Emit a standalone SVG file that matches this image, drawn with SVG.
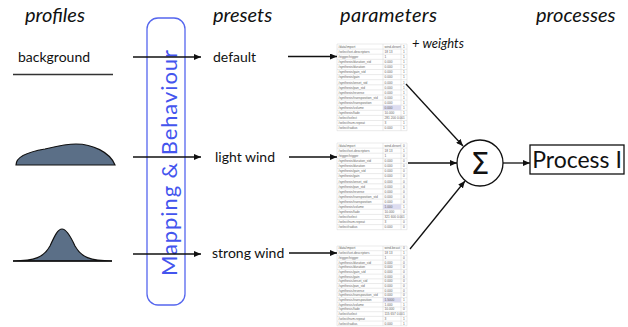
<svg xmlns="http://www.w3.org/2000/svg" xmlns:xlink="http://www.w3.org/1999/xlink" width="628" height="327" viewBox="0 0 628 327">
<style>
.hdr{font-family:Lato,"Open Sans",sans-serif;font-style:italic;font-size:20px;fill:#111}
.lbl{font-family:Lato,"Open Sans",sans-serif;font-size:14px;fill:#111}
.tt{font-family:"Liberation Sans",Arial,sans-serif;font-size:3.2px;fill:#666}
.conn{stroke:#111;stroke-width:1.3;fill:none}
.grid{stroke:#d4d4d4;stroke-width:0.5;fill:none}
.prof{fill:#5b6f87;stroke:#111;stroke-width:1.2}
</style>
<defs>
<marker id="ah" markerWidth="7" markerHeight="6" refX="7" refY="3" orient="auto" markerUnits="userSpaceOnUse">
<path d="M0,0 L7,3 L0,6 z" fill="#111"/>
</marker>
<g id="grid">
<rect x="0" y="0" width="70" height="86.7" fill="#fff"/>
<path class="grid" d="M0,0H70M0,5.1H70M0,10.2H70M0,15.3H70M0,20.4H70M0,25.5H70M0,30.6H70M0,35.7H70M0,40.8H70M0,45.9H70M0,51H70M0,56.1H70M0,61.2H70M0,66.3H70M0,71.4H70M0,76.5H70M0,81.6H70M0,86.7H70M0,0V86.7M46,0V86.7M64,0V86.7M70,0V86.7"/>
</g>
<g id="names" class="tt">
<text x="1.5" y="3.8">/data/import</text>
<text x="1.5" y="8.9">/select/set-descriptors</text>
<text x="1.5" y="14">/trigger/trigger</text>
<text x="1.5" y="19.1">/synthesis/duration_std</text>
<text x="1.5" y="24.2">/synthesis/duration</text>
<text x="1.5" y="29.3">/synthesis/gain_std</text>
<text x="1.5" y="34.4">/synthesis/gain</text>
<text x="1.5" y="39.5">/synthesis/onset_std</text>
<text x="1.5" y="44.6">/synthesis/pan_std</text>
<text x="1.5" y="49.7">/synthesis/reverse</text>
<text x="1.5" y="54.8">/synthesis/transposition_std</text>
<text x="1.5" y="59.9">/synthesis/transposition</text>
<text x="1.5" y="65">/synthesis/volume</text>
<text x="1.5" y="70.1">/synthesis/fade</text>
<text x="1.5" y="75.2">/select/select</text>
<text x="1.5" y="80.3">/select/num-repeat</text>
<text x="1.5" y="85.4">/select/radius</text>
</g>
<g id="vals" class="tt">
<text x="47.5" y="19.1">0.000</text>
<text x="47.5" y="24.2">0.000</text>
<text x="47.5" y="29.3">0.000</text>
<text x="47.5" y="34.4">0.000</text>
<text x="47.5" y="39.5">0.000</text>
<text x="47.5" y="44.6">0.000</text>
<text x="47.5" y="49.7">0.000</text>
<text x="47.5" y="54.8">0.000</text>
<text x="47.5" y="70.1">10.000</text>
<text x="47.5" y="80.3">3</text>
<text x="47.5" y="85.4">0.000</text>
<text x="47.5" y="14">1</text>
<text x="47.5" y="8.9">18 13</text>
</g>
</defs>

<!-- headers -->
<g id="headers">
<text class="hdr" x="25" y="22">profiles</text>
<text class="hdr" x="213" y="22">presets</text>
<text class="hdr" x="340" y="22" textLength="97" lengthAdjust="spacing">parameters</text>
<text class="hdr" x="536" y="22">processes</text>
<text x="412" y="48" style="font-family:Lato,'Open Sans',sans-serif;font-style:italic;font-size:13px;fill:#111">+ weights</text>
</g>

<!-- profiles -->
<g id="profile-background">
<text class="lbl" x="18" y="62">background</text>
<line x1="13" y1="74.5" x2="113" y2="74.5" stroke="#333" stroke-width="1.3"/>
</g>
<g id="profile-light">
<path class="prof" d="M16,165 C16,157 27,152 45,149 C58,146 66,144 76,144 C92,144 110,152 115,165 Z"/>
</g>
<g id="profile-strong">
<path class="prof" d="M13,261 C35,261 44,257 50,246 C55,235 58,229 62,229 C66,229 70,235 75,246 C81,257 90,261 112,261 Z"/>
<line x1="13" y1="261" x2="112" y2="261" stroke="#111" stroke-width="1.6"/>
</g>

<!-- mapping & behaviour -->
<g id="mapping">
<rect x="147" y="18" width="38" height="287" rx="11" fill="none" stroke="#5566ee" stroke-width="1.3"/>
<text transform="translate(177,276) rotate(-90)" textLength="226" lengthAdjust="spacing" style="font-family:Lato,'Open Sans',sans-serif;font-size:22px;fill:#4455ee">Mapping &amp; Behaviour</text>
</g>

<!-- presets -->
<g id="preset-default"><text class="lbl" x="213" y="62">default</text></g>
<g id="preset-light"><text class="lbl" x="215" y="162">light wind</text></g>
<g id="preset-strong"><text class="lbl" x="212" y="258">strong wind</text></g>

<!-- parameter tables -->
<g id="table1" transform="translate(337,44)">
<use xlink:href="#grid"/>
<rect x="46" y="61.2" width="18" height="5.1" fill="#dcdcf0"/>
<use xlink:href="#names"/>
<use xlink:href="#vals"/>
<g class="tt">
<text x="47.5" y="3.8">wind-desert</text>
<text x="47.5" y="59.9">0.000</text>
<text x="47.5" y="65">0.000</text>
<text x="47.5" y="75.2">281 200 0.00</text>
<text x="66" y="3.8">1</text><text x="66" y="8.9">1</text><text x="66" y="14">1</text><text x="66" y="19.1">1</text><text x="66" y="24.2">1</text><text x="66" y="29.3">1</text><text x="66" y="34.4">1</text><text x="66" y="39.5">1</text><text x="66" y="44.6">1</text><text x="66" y="49.7">1</text><text x="66" y="54.8">1</text><text x="66" y="59.9">1</text><text x="66" y="65">1</text><text x="66" y="70.1">1</text><text x="66" y="75.2">1</text><text x="66" y="80.3">1</text><text x="66" y="85.4">1</text>
</g>
</g>
<g id="table2" transform="translate(337,143)">
<use xlink:href="#grid"/>
<rect x="46" y="61.2" width="18" height="5.1" fill="#dcdcf0"/>
<use xlink:href="#names"/>
<use xlink:href="#vals"/>
<g class="tt">
<text x="47.5" y="3.8">wind-desert</text>
<text x="47.5" y="59.9">0.000</text>
<text x="47.5" y="65">1.000</text>
<text x="47.5" y="75.2">321 600 0.00</text>
<text x="66" y="3.8">0</text><text x="66" y="8.9">1</text><text x="66" y="14">0</text><text x="66" y="19.1">0</text><text x="66" y="24.2">0</text><text x="66" y="29.3">0</text><text x="66" y="34.4">0</text><text x="66" y="39.5">0</text><text x="66" y="44.6">0</text><text x="66" y="49.7">0</text><text x="66" y="54.8">0</text><text x="66" y="59.9">0</text><text x="66" y="65">1</text><text x="66" y="70.1">0</text><text x="66" y="75.2">1</text><text x="66" y="80.3">0</text><text x="66" y="85.4">0</text>
</g>
</g>
<g id="table3" transform="translate(337,246) scale(1,0.92)">
<use xlink:href="#grid"/>
<rect x="46" y="56.1" width="18" height="5.1" fill="#dcdcf0"/>
<use xlink:href="#names"/>
<use xlink:href="#vals"/>
<g class="tt">
<text x="47.5" y="3.8">wind-beast</text>
<text x="47.5" y="59.9">1.5000</text>
<text x="47.5" y="65">1.000</text>
<text x="47.5" y="75.2">115 657 0.00</text>
<text x="66" y="3.8">0</text><text x="66" y="8.9">1</text><text x="66" y="14">0</text><text x="66" y="19.1">0</text><text x="66" y="24.2">0</text><text x="66" y="29.3">0</text><text x="66" y="34.4">0</text><text x="66" y="39.5">0</text><text x="66" y="44.6">0</text><text x="66" y="49.7">0</text><text x="66" y="54.8">0</text><text x="66" y="59.9">1</text><text x="66" y="65">1</text><text x="66" y="70.1">0</text><text x="66" y="75.2">1</text><text x="66" y="80.3">1</text><text x="66" y="85.4">1</text>
</g>
</g>

<!-- sum and process -->
<g id="sum">
<circle cx="480" cy="163" r="23" fill="#fff" stroke="#111" stroke-width="1.3"/>
<text x="480" y="174" text-anchor="middle" style="font-family:'DejaVu Sans',sans-serif;font-size:30px;fill:#111">Σ</text>
</g>
<g id="process1">
<rect x="530" y="145" width="94" height="29" fill="#fff" stroke="#111" stroke-width="1.3"/>
<text x="577" y="168" text-anchor="middle" style="font-family:Lato,'Open Sans',sans-serif;font-size:23px;fill:#111">Process I</text>
</g>

<!-- connectors -->
<g id="connectors" class="conn">
<line x1="133" y1="57" x2="201" y2="57" marker-end="url(#ah)"/>
<line x1="133" y1="157" x2="201" y2="157" marker-end="url(#ah)"/>
<line x1="133" y1="254" x2="201" y2="254" marker-end="url(#ah)"/>
<line x1="288" y1="56.5" x2="337" y2="56.5" marker-end="url(#ah)"/>
<line x1="289" y1="157" x2="337" y2="157" marker-end="url(#ah)"/>
<line x1="289" y1="253" x2="337" y2="253" marker-end="url(#ah)"/>
<line x1="406" y1="84" x2="463" y2="146" marker-end="url(#ah)"/>
<line x1="408" y1="163" x2="457" y2="163" marker-end="url(#ah)"/>
<line x1="410" y1="249" x2="465" y2="181" marker-end="url(#ah)"/>
<line x1="503" y1="163" x2="530" y2="163" marker-end="url(#ah)"/>
</g>
</svg>
